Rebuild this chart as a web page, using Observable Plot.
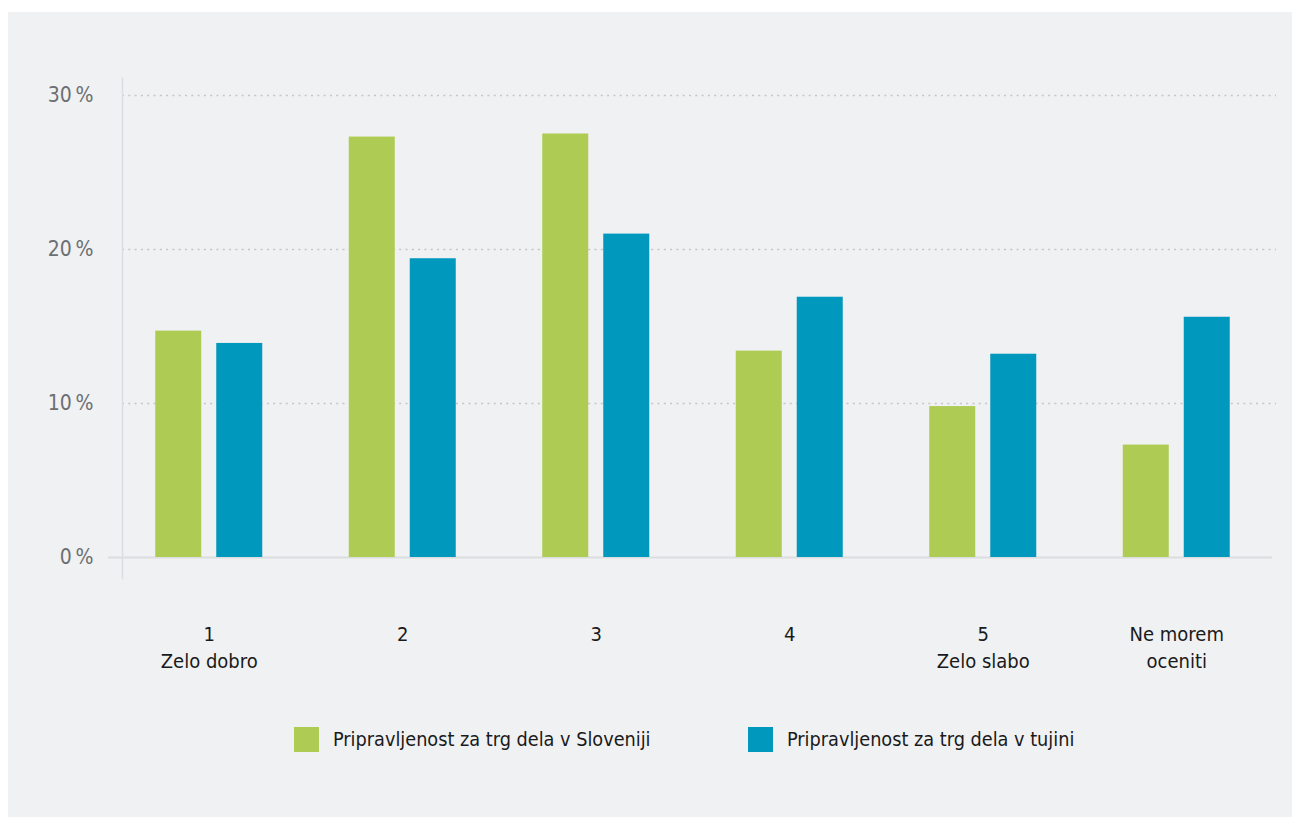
<!DOCTYPE html>
<html><head><meta charset="utf-8">
<script src="https://cdn.jsdelivr.net/npm/d3@7"></script>
<script src="https://cdn.jsdelivr.net/npm/@observablehq/plot@0.6"></script>
<style>
html,body{margin:0;padding:0;background:#fff;}
#panel{position:absolute;left:8px;top:12px;width:1284px;height:805px;background:#f0f1f3;font-family:"DejaVu Sans Condensed","DejaVu Sans",sans-serif;font-stretch:condensed;}
#chart svg{display:block;}
.legend-item{position:absolute;top:715px;height:25px;display:flex;align-items:center;font-size:19.7px;color:#1a1a1a;white-space:nowrap;}
.sw{width:25px;height:25px;margin-right:14px;flex:none;}
</style></head><body>
<div id="panel"><div id="chart"></div><div id="legend"></div></div>
<script>
const categories = ["1", "2", "3", "4", "5", "Ne morem oceniti"];
const tickLabels = ["1\nZelo dobro", "2", "3", "4", "5\nZelo slabo", "Ne morem\noceniti"];
const slovenija = [14.7, 27.3, 27.5, 13.4, 9.8, 7.3];
const tujina = [13.9, 19.4, 21.0, 16.9, 13.2, 15.6];
const seriesNames = ["Pripravljenost za trg dela v Sloveniji", "Pripravljenost za trg dela v tujini"];
const seriesColors = ["#aecb54", "#0098bd"];
const yTicks = [0, 10, 20, 30];
const gridTicks = [10, 20, 30];

const dataSlo = categories.map((c, i) => ({cat: c, value: slovenija[i]}));
const dataTuj = categories.map((c, i) => ({cat: c, value: tujina[i]}));
const labelOf = new Map(categories.map((c, i) => [c, tickLabels[i]]));
const font = '"DejaVu Sans Condensed","DejaVu Sans",sans-serif';

const chart = Plot.plot({
  width: 1284, height: 690,
  marginLeft: 104, marginRight: 19, marginTop: 66, marginBottom: 124,
  style: {background: "transparent", fontFamily: font, overflow: "visible"},
  x: {domain: categories, padding: 0, round: false, label: null},
  y: {domain: [0, 30], range: [545, 83], label: null},
  marks: [
    Plot.ruleY(gridTicks, {stroke: "#c3c5c8", strokeWidth: 1.5, strokeDasharray: "2 4.3", insetLeft: 10, insetRight: -3}),
    Plot.frame({anchor: "left", dx: 10, stroke: "#dcdde0", strokeWidth: 1.5}),
    Plot.ruleY([0], {stroke: "#dcdde0", strokeWidth: 2, insetLeft: -4, insetRight: 1}),
    Plot.barY(dataSlo, {x: "cat", y: "value", fill: seriesColors[0], insetLeft: 73.75, insetRight: 73.75, dx: -30.5}),
    Plot.barY(dataTuj, {x: "cat", y: "value", fill: seriesColors[1], insetLeft: 73.75, insetRight: 73.75, dx: 30.5}),
    Plot.axisY({ticks: yTicks, tickSize: 0, tickPadding: 19, tickFormat: d => d + "\u202F%", fontSize: 21, color: "#6d6e71", label: null}),
    Plot.axisX({tickSize: 0, tickPadding: 44, tickFormat: d => labelOf.get(d), fontSize: 20, lineHeight: 1.33, color: "#1a1a1a", label: null})
  ]
});
document.getElementById("chart").appendChild(chart);

const legend = document.getElementById("legend");
const lefts = [286, 740];
seriesNames.forEach((name, i) => {
  const item = document.createElement("div");
  item.className = "legend-item";
  item.style.left = lefts[i] + "px";
  item.innerHTML = `<span class="sw" style="background:${seriesColors[i]}"></span><span>${name}</span>`;
  legend.appendChild(item);
});
</script>
</body></html>
